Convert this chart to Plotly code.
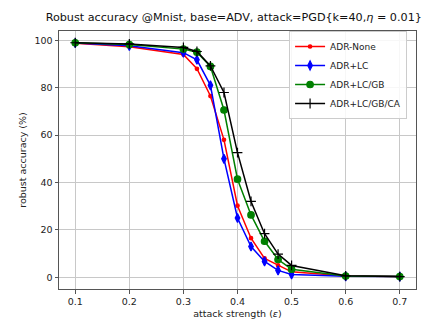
import plotly.graph_objects as go

eps = [0.1, 0.2, 0.3, 0.325, 0.35, 0.375, 0.4, 0.425, 0.45, 0.475, 0.5, 0.6, 0.7]
adr_none = [98.8, 97.3, 94.0, 88.0, 76.5, 58.0, 30.2, 16.5, 8.0, 5.0, 2.3, 0.5, 0.3]
adr_lc = [98.9, 97.7, 94.8, 91.8, 81.0, 50.0, 25.0, 13.0, 6.7, 2.9, 1.2, 0.4, 0.3]
adr_lc_gb = [99.0, 98.2, 96.3, 95.0, 89.0, 70.6, 41.4, 26.3, 15.2, 7.5, 3.4, 0.5, 0.3]
adr_lc_gb_ca = [99.0, 98.5, 97.0, 95.3, 89.2, 78.0, 52.6, 32.0, 18.4, 9.8, 5.0, 0.6, 0.3]

names = ["ADR-None", "ADR+LC", "ADR+LC/GB", "ADR+LC/GB/CA"]
series = [adr_none, adr_lc, adr_lc_gb, adr_lc_gb_ca]
colors = ["#ff0000", "#0000ff", "#008000", "#000000"]
symbols = ["circle", "diamond-tall", "circle", "cross-thin"]
sizes = [3.5, 6.5, 6.5, 7]

fig = go.Figure()
for n, s, c, sym, sz in zip(names, series, colors, symbols, sizes):
    fig.add_trace(go.Scatter(
        x=eps, y=s, name=n, mode="lines+markers",
        line=dict(color=c, width=1.5),
        marker=dict(symbol=sym, size=sz, color=c, line=dict(color=c, width=1.2)),
    ))

font = "DejaVu Sans"
fig.update_layout(
    width=430, height=322,
    margin=dict(l=51, r=22, t=23, b=31),
    paper_bgcolor="white", plot_bgcolor="white",
    font=dict(family=font, size=9.5, color="#222"),
    title=dict(text="Robust accuracy @Mnist, base=ADV, attack=PGD{k=40,<i>η</i> = 0.01}",
               x=0.525, xanchor="center", xref="container", y=0.985, yanchor="top",
               font=dict(size=11.2, family=font, color="#111")),
    legend=dict(x=0.975, y=1.0, xanchor="right", yanchor="top",
                bgcolor="rgba(255,255,255,0.85)", bordercolor="#cccccc", borderwidth=1,
                font=dict(size=9, family=font), tracegroupgap=0, itemwidth=30),
    showlegend=True,
)
fig.update_xaxes(
    range=[0.07, 0.73], tickvals=[0.1, 0.2, 0.3, 0.4, 0.5, 0.6, 0.7],
    ticktext=["0.1", "0.2", "0.3", "0.4", "0.5", "0.6", "0.7"],
    showgrid=True, gridcolor="#c8c8c8", gridwidth=1,
    showline=True, linecolor="#555", linewidth=1, mirror=True,
    ticks="outside", ticklen=3.5, tickcolor="#555", zeroline=False,
    title=dict(text="attack strength (<i>ε</i>)", standoff=4, font=dict(size=9.5)),
)
fig.update_yaxes(
    range=[-4.95, 103.95], tickvals=[0, 20, 40, 60, 80, 100],
    showgrid=True, gridcolor="#c8c8c8", gridwidth=1,
    showline=True, linecolor="#555", linewidth=1, mirror=True,
    ticks="outside", ticklen=3.5, tickcolor="#555", zeroline=False,
    title=dict(text="robust accuracy (%)", standoff=6, font=dict(size=9.5)),
)

fig.write_html("out.html")
